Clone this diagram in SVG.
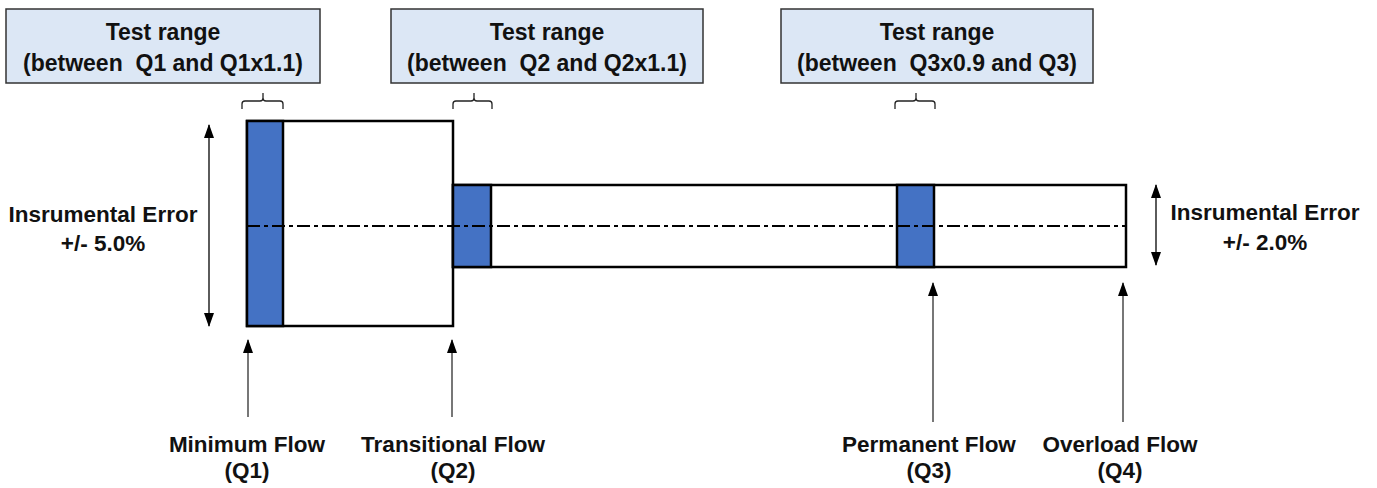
<svg xmlns="http://www.w3.org/2000/svg" width="1377" height="488" viewBox="0 0 1377 488">
<defs>
<style>
.t{font-family:"Liberation Sans",Arial,sans-serif;font-weight:bold;font-size:22.5px;fill:#111;text-anchor:middle}
.tb{font-size:23px}
.box{fill:#dce7f5;stroke:#333;stroke-width:1.5}
.pipe{fill:#fff;stroke:#000;stroke-width:2.5}
.blue{fill:#4472c4;stroke:#000;stroke-width:2.5}
.brace{fill:none;stroke:#222;stroke-width:1.3}
.ptr{stroke:#555;stroke-width:1.6;fill:none}
.dim{stroke:#333;stroke-width:1.6;fill:none}
.cl{stroke:#000;stroke-width:2;stroke-dasharray:13 4 4 4;fill:none}
</style>
<marker id="ah" viewBox="0 0 14 10" refX="13" refY="5" markerWidth="14" markerHeight="10" markerUnits="userSpaceOnUse" orient="auto-start-reverse">
<path d="M0,0 L14,5 L0,10 Z" fill="#000"/>
</marker>
</defs>

<g id="box-q1">
<rect class="box" x="6" y="9" width="314" height="74"/>
<text class="t tb" x="163" y="40">Test range</text>
<text class="t tb" x="163" y="71" xml:space="preserve">(between  Q1 and Q1x1.1)</text>
</g>
<g id="box-q2">
<rect class="box" x="391" y="9" width="312" height="74"/>
<text class="t tb" x="547" y="40">Test range</text>
<text class="t tb" x="547" y="71" xml:space="preserve">(between  Q2 and Q2x1.1)</text>
</g>
<g id="box-q3">
<rect class="box" x="781" y="9" width="312" height="74"/>
<text class="t tb" x="937" y="40">Test range</text>
<text class="t tb" x="937" y="71" xml:space="preserve">(between  Q3x0.9 and Q3)</text>
</g>

<g id="braces">
<path class="brace" d="M242,109 V104 Q242,101 245,101 H260 Q263,101 263,98 V93 M263,98 Q263,101 266,101 H280 Q283,101 283,104 V109"/>
<path class="brace" d="M453,109 V104 Q453,101 456,101 H471 Q474,101 474,98 V93 M474,98 Q474,101 477,101 H489 Q492,101 492,104 V109"/>
<path class="brace" d="M895,109 V104 Q895,101 898,101 H913 Q916,101 916,98 V93 M916,98 Q916,101 919,101 H932 Q935,101 935,104 V109"/>
</g>

<g id="pipe">
<rect class="pipe" x="247" y="121" width="206" height="205"/>
<rect class="pipe" x="453" y="185" width="673" height="82"/>
<rect class="blue" x="247" y="121" width="36" height="205"/>
<rect class="blue" x="453" y="185" width="38" height="82"/>
<rect class="blue" x="897" y="185" width="37" height="82"/>
<line class="cl" x1="247" y1="226" x2="1126" y2="226"/>
</g>

<g id="connectors">
<line class="dim" x1="209" y1="125" x2="209" y2="326" marker-start="url(#ah)" marker-end="url(#ah)"/>
<line class="dim" x1="1156" y1="185" x2="1156" y2="265" marker-start="url(#ah)" marker-end="url(#ah)"/>
<line class="ptr" x1="248" y1="417" x2="248" y2="340" marker-end="url(#ah)"/>
<line class="ptr" x1="452" y1="417" x2="452" y2="340" marker-end="url(#ah)"/>
<line class="ptr" x1="933" y1="422" x2="933" y2="283" marker-end="url(#ah)"/>
<line class="ptr" x1="1123" y1="422" x2="1123" y2="283" marker-end="url(#ah)"/>
</g>

<g id="err-left">
<text class="t" x="103" y="222">Insrumental Error</text>
<text class="t" x="103" y="251">+/- 5.0%</text>
</g>
<g id="err-right">
<text class="t" x="1265" y="220">Insrumental Error</text>
<text class="t" x="1265" y="250">+/- 2.0%</text>
</g>

<g id="label-q1">
<text class="t" x="247" y="452">Minimum Flow</text>
<text class="t" x="247" y="478">(Q1)</text>
</g>
<g id="label-q2">
<text class="t" x="453" y="452">Transitional Flow</text>
<text class="t" x="453" y="478">(Q2)</text>
</g>
<g id="label-q3">
<text class="t" x="929" y="452">Permanent Flow</text>
<text class="t" x="929" y="478">(Q3)</text>
</g>
<g id="label-q4">
<text class="t" x="1120" y="452">Overload Flow</text>
<text class="t" x="1120" y="478">(Q4)</text>
</g>
</svg>
